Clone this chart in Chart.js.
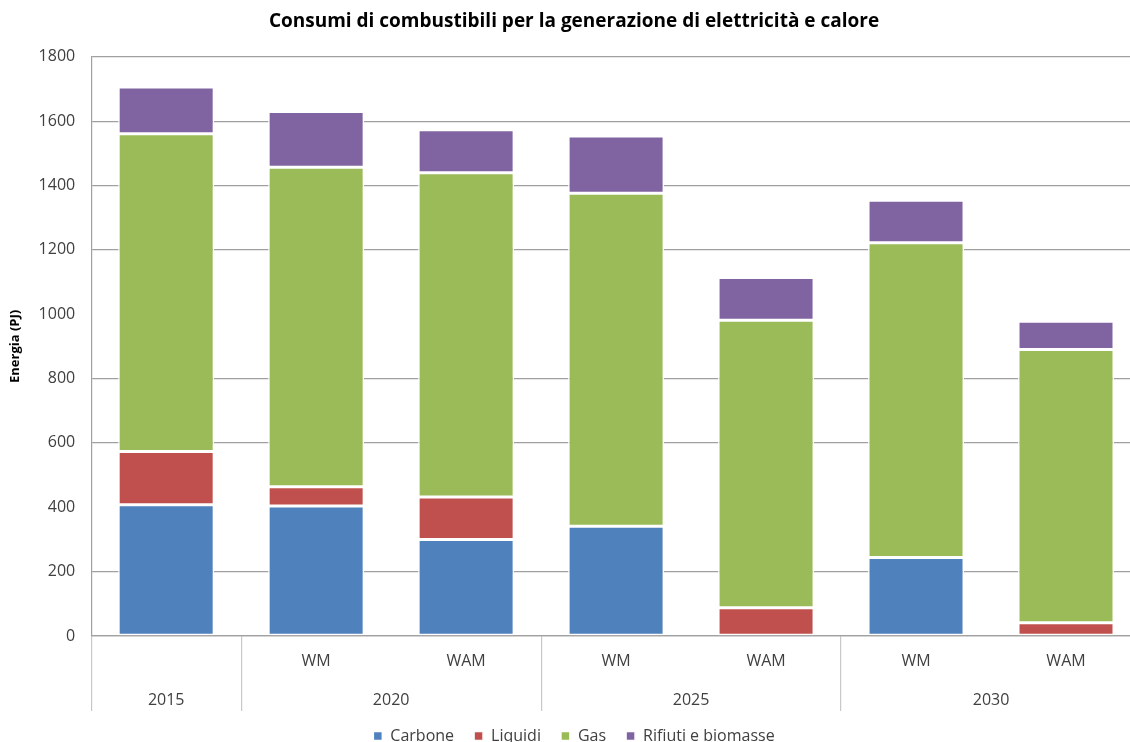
<!DOCTYPE html>
<html>
<head>
<meta charset="utf-8">
<script src="https://cdn.jsdelivr.net/npm/chart.js@4.4.1/dist/chart.umd.min.js"></script>
<style>
  html, body { margin: 0; padding: 0; background: #fff; overflow: hidden; }
  /* a little wider than the window: the last category is cut at the right edge, as in the original */
  #wrap { width: 1145px; height: 742px; }
</style>
</head>
<body>
<div id="wrap"><canvas id="fuelChart"></canvas></div>
<script>
// category axis: scenario row and year row
const scenarios = ['', 'WM', 'WAM', 'WM', 'WAM', 'WM', 'WAM'];
const years = ['2015', '2020', '2020', '2025', '2025', '2030', '2030'];

// PJ
const carbone = [408, 404, 300, 341, 0, 244, 0];
const liquidi = [165, 60, 132, 0, 88, 0, 41];
const gas = [988, 993, 1008, 1035, 893, 978, 849];
const rifiuti = [145, 173, 133, 178, 133, 132, 88];

const yTicks = [0, 200, 400, 600, 800, 1000, 1200, 1400, 1600, 1800];
const hiddenGridValues = [400, 1000]; // not visible in the original

// year groups, built from the year row
const groups = [];
years.forEach((y, i) => {
    const last = groups[groups.length - 1];
    if (last && last.label === y) last.end = i + 1;
    else groups.push({ label: y, start: i, end: i + 1 });
});

const txt = '#404040';
const font = '"Open Sans", sans-serif';

const ctx = document.getElementById('fuelChart').getContext('2d');

new Chart(ctx, {
    type: 'bar',
    data: {
        labels: scenarios,
        datasets: [
            { label: 'Carbone', data: carbone, backgroundColor: '#4F81BD' },
            { label: 'Liquidi', data: liquidi, backgroundColor: '#C0504D' },
            { label: 'Gas', data: gas, backgroundColor: '#9BBB59' },
            { label: 'Rifiuti e biomasse', data: rifiuti, backgroundColor: '#8064A2' }
        ]
    },
    options: {
        responsive: true,
        maintainAspectRatio: false,
        animation: false,
        datasets: {
            bar: {
                barPercentage: 0.64,
                categoryPercentage: 1,
                borderColor: '#ffffff',
                borderWidth: 1.5,
                borderSkipped: false
            }
        },
        layout: {
            padding: { left: 7, right: 4, top: 4, bottom: -12 }
        },
        scales: {
            x: {
                stacked: true,
                grid: {
                    offset: true,
                    drawOnChartArea: false,
                    drawTicks: true,
                    tickLength: 75,
                    lineWidth: 1.2,
                    // separators only where the year changes
                    color: (c) => {
                        const i = c.index;
                        if (i === undefined || i === 0 || years[i] !== years[i - 1]) return '#c8c8c8';
                        return 'rgba(0,0,0,0)';
                    }
                },
                border: { display: true, color: '#a0a0a0', width: 1.2 },
                // blank title only reserves height for the separator ticks
                title: { display: true, text: '', font: { family: font, size: 15 }, padding: { top: 0, bottom: 55 } },
                ticks: {
                    padding: -59,
                    color: txt,
                    font: { family: font, size: 16 },
                    maxRotation: 0,
                    autoSkip: false
                }
            },
            x2: {
                type: 'linear',
                position: 'bottom',
                offset: false,
                min: 0,
                max: scenarios.length,
                grid: { display: false },
                border: { display: false },
                afterBuildTicks: (axis) => {
                    axis.ticks = groups.map(g => ({ value: (g.start + g.end) / 2 }));
                },
                ticks: {
                    padding: -2.2,
                    color: txt,
                    font: { family: font, size: 16 },
                    maxRotation: 0,
                    autoSkip: false,
                    callback: (v, i) => groups[i] ? groups[i].label : ''
                }
            },
            y: {
                stacked: true,
                min: 0,
                max: 1800,
                afterBuildTicks: (axis) => {
                    axis.ticks = yTicks.map(v => ({ value: v }));
                },
                grid: {
                    drawTicks: false,
                    lineWidth: 1.3,
                    color: (c) => hiddenGridValues.includes(yTicks[c.index]) ? 'rgba(0,0,0,0)' : '#a0a0a0'
                },
                border: { display: true, color: '#a0a0a0', width: 1.2 },
                title: {
                    display: true,
                    text: 'Energia (PJ)',
                    color: '#000',
                    font: { family: font, size: 13, weight: 'bold' },
                    padding: 0
                },
                ticks: {
                    padding: 16,
                    color: txt,
                    font: { family: font, size: 16 },
                    callback: v => String(v)
                }
            }
        },
        plugins: {
            title: {
                display: true,
                text: 'Consumi di combustibili per la generazione di elettricità e calore',
                color: '#000',
                font: { family: font, size: 19, weight: 'bold' },
                padding: { top: 6, bottom: 24 }
            },
            legend: {
                position: 'bottom',
                labels: {
                    boxWidth: 9,
                    boxHeight: 9,
                    padding: 20,
                    color: txt,
                    font: { family: font, size: 16 }
                }
            },
            tooltip: { enabled: false }
        }
    }
});
</script>
</body>
</html>
